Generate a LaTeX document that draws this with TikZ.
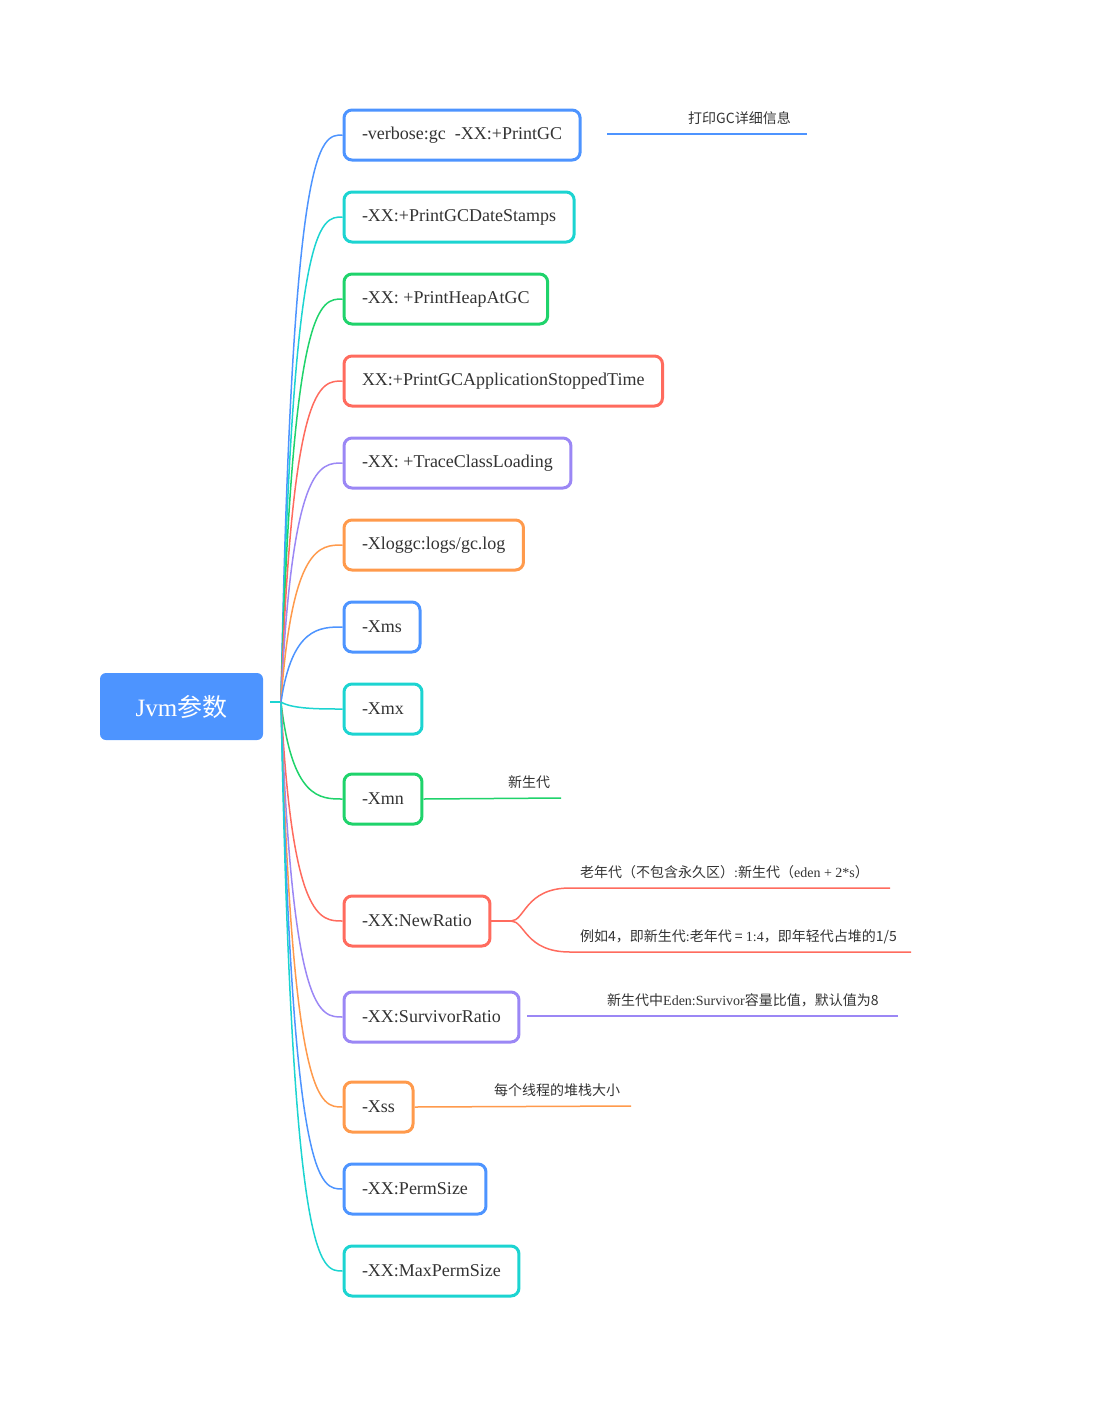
\documentclass[tikz,border=0pt]{standalone}
\usepackage{fontspec}
\setmainfont{Liberation Serif}
\newfontfamily\cjk{Noto Sans CJK SC}
\definecolor{cblue}{HTML}{4D94FF}
\definecolor{ccyan}{HTML}{1CD4D1}
\definecolor{cgreen}{HTML}{1FD36B}
\definecolor{cred}{HTML}{FF6B5E}
\definecolor{cpurple}{HTML}{9B87F5}
\definecolor{corange}{HTML}{FF9A4C}
\definecolor{tx}{HTML}{333333}
\tikzset{
  kid/.style={draw=#1, line width=3pt, rounded corners=8pt, fill=white, anchor=west,
    minimum height=50pt, inner xsep=18pt, inner ysep=0pt, text=tx,
    font=\fontsize{18}{18}\selectfont},
  edge/.style={draw=#1, line width=1.5pt},
  lab/.style={anchor=base west, text=tx, inner sep=0pt, font=\fontsize{14}{14}\selectfont},
  rootbox/.style={fill=cblue, rounded corners=6pt, minimum width=163pt, minimum height=67pt,
    text=white, font=\fontsize{25}{25}\selectfont, inner sep=0pt},
}
\begin{document}
\begin{tikzpicture}[x=1pt,y=-1pt]
\useasboundingbox (0,0) rectangle (1110,1422);
\node[rootbox] (root) at (181.5,706.5) {Jvm{\cjk 参数}};
\coordinate (rootout) at (270,702);
\coordinate (hub) at (281,702);
\draw[edge=ccyan] (rootout) -- (hub);

\node[kid=cblue]   (c1)  at (342.5,135)  {-verbose:gc\ \ -XX:+PrintGC};
\node[kid=ccyan]   (c2)  at (342.5,217)  {-XX:+PrintGCDateStamps};
\node[kid=cgreen]  (c3)  at (342.5,299)  {-XX: +PrintHeapAtGC};
\node[kid=cred]    (c4)  at (342.5,381)  {XX:+PrintGCApplicationStoppedTime};
\node[kid=cpurple] (c5)  at (342.5,463)  {-XX: +TraceClassLoading};
\node[kid=corange] (c6)  at (342.5,545)  {-Xloggc:logs/gc.log};
\node[kid=cblue]   (c7)  at (342.5,627)  {-Xms};
\node[kid=ccyan]   (c8)  at (342.5,709)  {-Xmx};
\node[kid=cgreen]  (c9)  at (342.5,799)  {-Xmn};
\node[kid=cred]    (c10) at (342.5,921)  {-XX:NewRatio};
\node[kid=cpurple] (c11) at (342.5,1017) {-XX:SurvivorRatio};
\node[kid=corange] (c12) at (342.5,1107) {-Xss};
\node[kid=cblue]   (c13) at (342.5,1189) {-XX:PermSize};
\node[kid=ccyan]   (c14) at (342.5,1271) {-XX:MaxPermSize};

\foreach \n/\y/\c in {c1/135/cblue, c2/217/ccyan, c3/299/cgreen, c4/381/cred,
  c5/463/cpurple, c6/545/corange, c7/627/cblue, c8/709/ccyan, c9/799/cgreen,
  c10/921/cred, c11/1017/cpurple, c12/1107/corange, c13/1189/cblue, c14/1271/ccyan}
  \draw[edge=\c] (hub) .. controls (292,\y) and (320,\y) .. (\n.west);

% labels
\node[lab] (l1) at (688,123) {{\cjk 打印GC详细信息}};
\coordinate (l1a) at (607,134); \coordinate (l1b) at (807,134);
\draw[edge=cblue] (l1a) -- (l1b);

\node[lab] (l9) at (508,787) {{\cjk 新生代}};
\draw[edge=cgreen] (c9.east) -- (561,798);

\coordinate (nr0) at (500,921);
\coordinate (nrb) at (511,921);
\draw[edge=cred] (c10.east) -- (nr0) -- (nrb);
\node[lab] (l10a) at (580,877) {{\cjk 老年代（不包含永久区）}:{\cjk 新生代（}eden + 2*s{\cjk ）}};
\node[lab] (l10b) at (580,941) {{\cjk 例如4，即新生代}:{\cjk 老年代 = }1:4{\cjk ，即年轻代占堆的1/5}};
\draw[edge=cred] (nrb) .. controls (525,921) and (525,888) .. (570,888) -- (890,888);
\draw[edge=cred] (nrb) .. controls (525,921) and (525,952) .. (570,952) -- (911,952);

\node[lab] (l11) at (607,1005) {{\cjk 新生代中}Eden:Survivor{\cjk 容量比值，默认值为8}};
\coordinate (l11a) at (527,1016);
\draw[edge=cpurple] (l11a) -- (898,1016);

\node[lab] (l12) at (494,1095) {{\cjk 每个线程的堆栈大小}};
\draw[edge=corange] (c12.east) -- (631,1106);
\end{tikzpicture}
\end{document}
